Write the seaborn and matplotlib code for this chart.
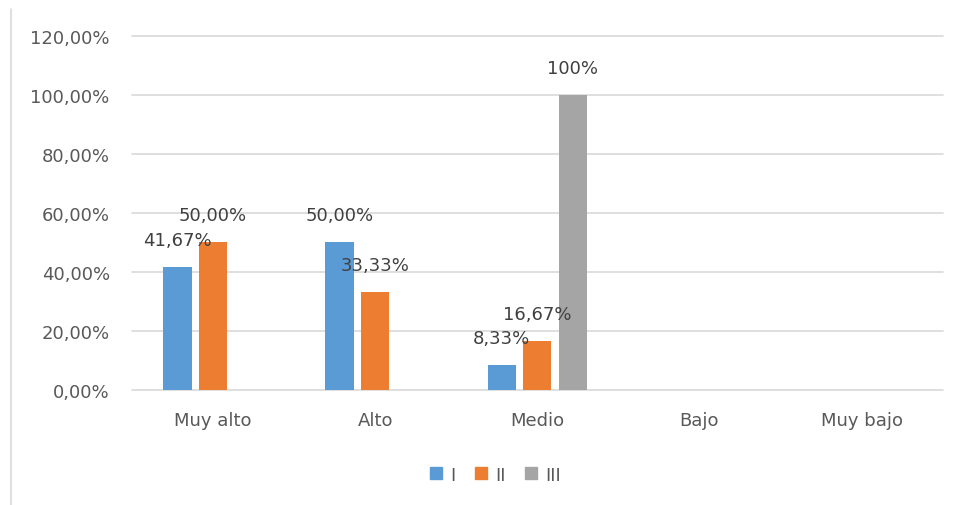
import pandas as pd
import matplotlib.pyplot as plt
import seaborn as sns
from matplotlib.lines import Line2D

# --- data ---
categories = ["Muy alto", "Alto", "Medio", "Bajo", "Muy bajo"]
serie_i = [41.67, 50.00, 8.33, 0, 0]
serie_ii = [50.00, 33.33, 16.67, 0, 0]
serie_iii = [0, 0, 100, 0, 0]
series_names = ["I", "II", "III"]
label_text = {
    ("I", "Muy alto"): "41,67%", ("II", "Muy alto"): "50,00%",
    ("I", "Alto"): "50,00%", ("II", "Alto"): "33,33%",
    ("I", "Medio"): "8,33%", ("II", "Medio"): "16,67%",
    ("III", "Medio"): "100%",
}
y_ticks = [0, 20, 40, 60, 80, 100, 120]

df = pd.DataFrame({
    "cat": categories * 3,
    "serie": [s for s in series_names for _ in categories],
    "valor": serie_i + serie_ii + serie_iii,
})

sns.set_style("white")
plt.rcParams["font.family"] = ["DejaVu Sans"]

colors = ["#5B9BD5", "#ED7D31", "#A5A5A5"]
fig = plt.figure(figsize=(9.56, 5.06), dpi=100)
ax = fig.add_axes([0.138, 0.2273, 0.848, 0.6996])

sns.barplot(data=df, x="cat", y="valor", hue="serie", palette=colors,
            order=categories, hue_order=series_names, width=0.657, gap=0.2,
            legend=False, ax=ax, saturation=1, linewidth=0)

# data labels
for cont, name in zip(ax.containers, series_names):
    for bar, cat in zip(cont, categories):
        txt = label_text.get((name, cat))
        if txt:
            ax.annotate(txt, (bar.get_x() + bar.get_width() / 2, bar.get_height()),
                        xytext=(0, 19.5), textcoords="offset points",
                        ha="center", va="center", fontsize=13, color="#404040")

ax.set_ylim(0, 120)
ax.set_xlim(-0.5, 4.5)
ax.set_yticks(y_ticks)
ax.set_yticklabels([f"{t},00%" for t in y_ticks])
ax.grid(axis="y", color="#D9D9D9", linewidth=1.2)
for gl in ax.get_ygridlines():
    gl.set_clip_on(False)
ax.set_axisbelow(True)
for s in ax.spines.values():
    s.set_visible(False)
ax.tick_params(axis="both", length=0, labelsize=13, colors="#595959")
ax.tick_params(axis="x", pad=15)
ax.tick_params(axis="y", pad=16)
ax.set_xlabel("")
ax.set_ylabel("")

# legend at bottom
handles = [Line2D([], [], marker="s", linestyle="", markersize=8, color=c) for c in colors]
fig.legend(handles, series_names, loc="center", bbox_to_anchor=(0.517, 0.06),
           ncol=3, frameon=False, fontsize=13, handletextpad=0.3, columnspacing=0.9,
           handlelength=1.0, labelcolor="#595959")

# chart area left border
fig.add_artist(Line2D([0.0115, 0.0115], [0.0, 0.98], color="#D9D9D9", linewidth=1.2))

plt.savefig("out.png", dpi=100)
